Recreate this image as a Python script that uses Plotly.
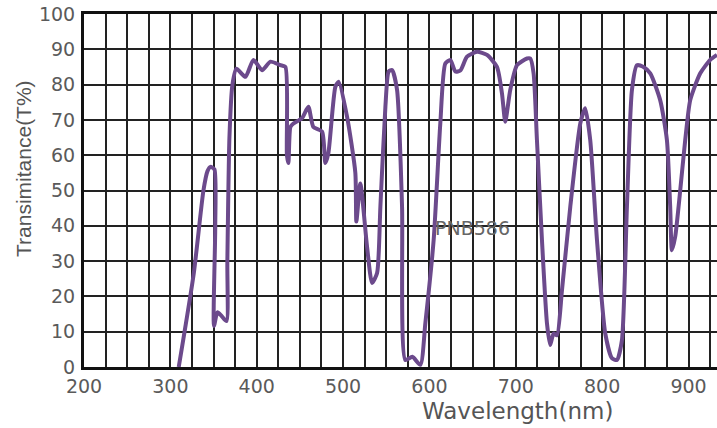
import plotly.graph_objects as go

wavelength = [309.7, 327.1, 338.3, 343.0, 346.4, 351.0, 352.0, 350.5, 354.5, 359.1, 365.0,
              366.0, 368.4, 371.9, 376.5, 386.9, 396.2, 406.2, 415.9, 427.4, 433.2,
              435.0, 436.7, 439.0, 442.5, 452.5, 459.8, 465.6, 475.7, 479.5, 483.0,
              491.1, 494.9, 504.6, 514.2, 515.4, 520.0, 527.8, 533.6, 539.4, 543.2,
              549.0, 552.8, 556.7, 562.5, 568.3, 572.1, 580.2, 589.5, 595.3, 604.9,
              612.6, 618.4, 624.2, 630.0, 635.8, 643.5, 655.1, 666.7, 678.2, 684.0,
              687.8, 693.6, 701.4, 713.0, 716.8, 720.6, 724.5, 730.3, 736.1, 739.9,
              743.7, 747.7, 753.5, 763.1, 774.7, 780.4, 786.2, 794.0, 803.6, 811.3,
              817.1, 822.9, 828.7, 834.5, 840.3, 847.9, 855.7, 867.2, 875.0, 878.8,
              880.8, 884.6, 890.4, 896.2, 902.0, 913.6, 925.1, 932.9]
transmittance = [0.0, 26.5, 50.0, 55.5, 56.7, 56.0, 40.0, 11.6, 15.5, 14.5, 13.0,
                 30.0, 65.0, 80.0, 84.5, 82.2, 87.0, 84.1, 86.5, 85.5, 85.0,
                 60.0, 57.8, 68.0, 69.0, 70.5, 73.7, 68.0, 66.7, 57.8, 60.6,
                 79.4, 80.8, 70.9, 55.0, 41.2, 52.0, 34.0, 23.8, 26.6, 45.4,
                 73.7, 83.7, 84.1, 78.5, 45.4, 2.0, 2.9, 0.6, 12.5, 36.0,
                 69.0, 86.0, 87.0, 83.7, 84.0, 87.9, 89.3, 88.4, 85.0, 77.5,
                 69.5, 78.5, 85.5, 87.4, 87.4, 83.2, 64.3, 36.0, 12.4, 6.2,
                 9.5, 9.0, 21.8, 45.4, 69.0, 73.3, 64.3, 36.0, 9.5, 2.5,
                 2.0, 7.6, 45.4, 78.5, 85.5, 85.0, 83.2, 75.6, 64.3, 45.4,
                 33.1, 36.9, 50.0, 64.3, 75.6, 83.2, 87.0, 88.4]

x_ticks = [200, 300, 400, 500, 600, 700, 800, 900]
y_ticks = [0, 10, 20, 30, 40, 50, 60, 70, 80, 90, 100]
label = "PNB586"
label_x, label_y = 604, 39.5
x_title = "Wavelength(nm)"
y_title = "Transimitance(T%)"

fig = go.Figure()
fig.add_trace(go.Scatter(
    x=wavelength, y=transmittance, mode="lines",
    line=dict(color="#6c4a8c", width=4, shape="spline", smoothing=0.6),
    showlegend=False, hoverinfo="skip"))

fig.add_annotation(x=label_x, y=label_y, text=label, showarrow=False,
                   xanchor="left", yanchor="middle",
                   font=dict(family="DejaVu Sans", size=19, color="#666666"))

# axis titles placed as in the reference (off-centre)
fig.add_annotation(x=702, xref="x", y=0, yref="paper", text=x_title, showarrow=False,
                   xanchor="center", yanchor="middle", yshift=-44,
                   font=dict(family="DejaVu Sans", size=23, color="#555555"))
fig.add_annotation(x=0, xref="paper", y=0.561, yref="paper", text=y_title, showarrow=False,
                   textangle=-90, xanchor="center", yanchor="middle", xshift=-60,
                   font=dict(family="Liberation Sans", size=21, color="#555555"))

tickfont = dict(family="DejaVu Sans", size=19, color="#5a5a5a")
fig.update_layout(
    width=717, height=428,
    margin=dict(l=84, r=0, t=14, b=61),
    paper_bgcolor="white", plot_bgcolor="white",
    xaxis=dict(range=[200, 933], tickvals=x_ticks, ticktext=[str(v) for v in x_ticks],
               showgrid=True, gridcolor="#222222", gridwidth=1.5,
               minor=dict(dtick=25, tick0=200, showgrid=True, gridcolor="#222222", gridwidth=1.5),
               showline=True, linecolor="#111111", linewidth=3, mirror=True,
               ticks="", tickfont=tickfont, zeroline=False, automargin=False, ticklabelstandoff=0),
    yaxis=dict(range=[0, 100], tickvals=y_ticks,
               showgrid=True, gridcolor="#222222", gridwidth=1.5,
               showline=True, linecolor="#111111", linewidth=3,
               ticks="", tickfont=tickfont, zeroline=False, automargin=False, ticklabelstandoff=2),
)

fig.write_html("out.html", config={"displayModeBar": False},
               post_script="document.body.style.margin='0';document.body.style.overflow='hidden';")
